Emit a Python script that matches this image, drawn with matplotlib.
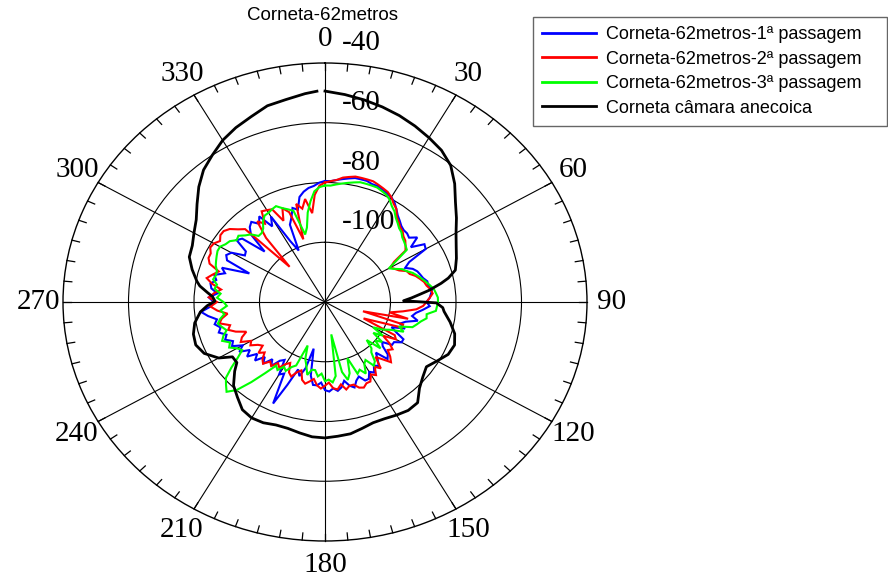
import numpy as np
import matplotlib
matplotlib.use("Agg")
import matplotlib.pyplot as plt
from matplotlib.lines import Line2D
from matplotlib.transforms import offset_copy

title = "Corneta-62metros"
series_labels = [
    "Corneta-62metros-1ª passagem",
    "Corneta-62metros-2ª passagem",
    "Corneta-62metros-3ª passagem",
    "Corneta câmara anecoica",
]
series_colors = ["#0000ff", "#ff0000", "#00ff00", "#000000"]

# three passes measured every 2.5 degrees, starting at 0
pass_step_deg = 2.5
pass1_db = [
    -79.5, -79.5, -79, -78.5, -78, -77.5, -77.5, -77.5, -78, -78, -78.5, -79,
    -79.5, -80.5, -82, -83.5, -84.5, -85.5, -86, -86, -86.5, -84.5, -88, -84,
    -84.5, -91, -93, -91, -90, -89.5, -89, -88, -88, -87, -87.5, -88,
    -89, -88, -90, -92, -93, -91, -94.5, -96, -94, -98, -96, -93,
    -93, -95, -95, -98, -97, -94, -93, -97, -95, -93, -94, -92,
    -93, -91, -91, -93, -92, -90, -91, -93, -91, -90, -91, -90,
    -90.5, -93, -92, -92, -95, -104, -97, -94, -96, -90, -82.5, -93,
    -92, -97, -96, -93, -95, -92, -94, -91, -93, -90, -92, -89,
    -91, -88, -89, -87, -88, -86, -87, -85.5, -86.5, -84, -82, -85,
    -86, -84.5, -87, -85, -84.5, -86, -85, -88, -86.5, -95, -87, -86,
    -87, -91, -90.5, -86, -87, -95, -88, -86, -85, -87, -85, -90,
    -87, -97, -101, -92, -90, -87, -88, -84, -82.5, -81.5, -81, -80,
]
pass2_db = [
    -80, -79.5, -79, -78, -77.5, -77, -77, -77, -77, -77.5, -78, -78.5,
    -79.5, -81, -82, -84, -85, -86, -86.5, -87.5, -88, -89, -90, -95,
    -97, -96, -95, -93, -92.5, -91, -90, -89, -88.5, -87.5, -87, -88,
    -89, -90, -92, -96, -100, -94, -108, -95, -95, -103, -107, -96,
    -95, -99, -96, -94, -95, -93, -91.5, -94, -96, -92, -93.5, -91,
    -92, -90, -90, -89, -89.5, -91, -91, -90, -92, -90.5, -91, -93,
    -92, -91, -92, -94, -93, -92, -93, -96, -95, -93, -94, -97,
    -96, -94, -95, -93, -94, -92, -93, -95, -93.5, -96, -95, -93,
    -94, -91, -92, -94, -91, -89, -90, -87, -88, -90, -87, -85,
    -87, -84.5, -86, -88, -85, -83, -84.5, -86, -82.5, -81.5, -81.5, -80.5,
    -80.8, -82, -81, -81, -82, -84, -85.5, -104, -92, -86, -88, -84,
    -84.5, -85, -90, -86, -88, -98, -86, -88, -85, -90, -84, -81,
]
pass3_db = [
    -81, -81, -80.5, -80, -79.5, -79, -78.5, -78.5, -78.5, -78.5, -79, -79.5,
    -80.5, -82, -83, -84.5, -85.5, -86.5, -87, -88, -88.5, -89, -89.5, -94,
    -97.5, -96, -94, -93, -91.5, -90.5, -89.5, -88.5, -87.5, -86.5, -86, -85.5,
    -85.5, -85.8, -86, -88.7, -88.5, -90, -91, -92, -96, -94, -98, -100,
    -103, -99, -102, -98, -100, -97, -102, -99, -98, -95, -94, -97,
    -96, -93, -95, -94, -100, -95, -93, -96, -109, -95, -93, -94,
    -93.5, -96, -95, -97, -97, -95, -98, -100, -104.5, -97, -96, -94,
    -95, -93, -94, -90, -85, -80, -77.5, -79, -80.5, -84, -87.5, -90,
    -89, -87, -88, -86, -87, -88.5, -87.5, -86.5, -87.5, -89, -88, -90,
    -89, -87, -88, -86, -86.5, -85, -85.5, -85.4, -84.5, -84, -83.5, -83,
    -83, -84, -84.5, -86, -85.5, -87, -88, -90, -89.9, -89, -87, -85.7,
    -85.5, -85, -84.6, -86, -87, -88, -96.6, -94.5, -89.6, -86, -82.8, -81.5,
]

# anechoic chamber reference pattern
anechoic_deg = [
    0, 5, 10, 15, 20, 25, 30, 35, 40, 45, 50, 55, 60, 65, 70, 75, 78, 80,
    83, 85, 87, 89, 90.5, 93, 95, 100, 105, 110, 115, 120, 125, 130, 135,
    140, 145, 150, 155, 160, 165, 170, 175, 180, 185, 190, 195, 200, 205,
    210, 215, 220, 225, 230, 233, 237, 240, 245, 250, 255, 260, 265, 268,
    270.5, 273, 275, 278, 280, 285, 290, 295, 300, 305, 310, 315, 320, 325,
    330, 335, 340, 345, 350, 355, 358,
]
anechoic_db = [
    -49.4, -50.3, -51.3, -52.4, -53.6, -55.0, -56.5, -58.0, -60.3, -64.0,
    -68.0, -71.0, -73.8, -75.8, -77.3, -78.8, -81.5, -84.0, -88.0, -91.0,
    -93.5, -96.0, -86.0, -84.0, -83.5, -81.2, -79.0, -77.9, -78.5, -80.5,
    -82.2, -81.0, -79.2, -76.0, -75.7, -76.3, -76.9, -77.0, -76.2, -75.2,
    -74.9, -74.5, -74.7, -75.5, -76.2, -76.2, -75.4, -75.2, -76.0, -78.4,
    -80.5, -84.0, -86.3, -86.3, -82.5, -79.3, -78.0, -78.4, -79.6, -81.8,
    -84.0, -86.4, -85.6, -84.0, -81.4, -80.3, -78.0, -75.9, -75.3, -73.8,
    -72.0, -69.0, -65.5, -62.3, -60.0, -57.5, -55.6, -54.0, -52.0, -51.2,
    -50.0, -49.4,
]

r_min, r_max = -120, -40
ring_values = [-100, -80, -60]
radial_labels = [-40, -60, -80, -100]
angle_ticks = list(range(0, 360, 30))
minor_angle_ticks = list(range(0, 360, 5))
minor_tick_db = 2.4

serif = "Liberation Serif"
sans = "Liberation Sans"

fig = plt.figure(figsize=(8.88, 5.85), dpi=100)
fig.patch.set_facecolor("white")
ax = fig.add_axes([63 / 888, 44 / 585, 524 / 888, 478 / 585], projection="polar")
ax.set_aspect("auto")
ax.set_theta_zero_location("N")
ax.set_theta_direction(-1)
ax.set_rlim(r_min, r_max)

# grid
ax.set_rgrids(ring_values, labels=[""] * len(ring_values))
ax.set_xticks(np.deg2rad(angle_ticks))
ax.set_xticklabels([str(a) for a in angle_ticks], fontsize=21, family=serif)
ax.tick_params(axis="x", which="major", pad=10.5, length=0)
ax.grid(True, color="black", linewidth=0.8)
ax.spines["polar"].set_color("black")
ax.spines["polar"].set_linewidth(1.0)
ax.set_axisbelow(True)

# small inward ticks on the outer ring every 5 degrees
for a in minor_angle_ticks:
    t = np.deg2rad(a)
    ax.plot([t, t], [r_max - minor_tick_db, r_max], color="black",
            linewidth=0.9, clip_on=False, zorder=1)

# radial level labels along the 0 degree spoke
label_tf = offset_copy(ax.transData, fig=fig, x=17, y=20, units="dots")
for v in radial_labels:
    ax.text(0, v, str(v), transform=label_tf, ha="left", va="center",
            fontsize=21, family=serif, clip_on=False)

# measured passes
for vals, color in zip([pass1_db, pass2_db, pass3_db], series_colors[:3]):
    vals = np.asarray(vals, dtype=float)
    theta = np.deg2rad(np.arange(len(vals)) * pass_step_deg)
    theta = np.append(theta, 2 * np.pi)
    vals = np.append(vals, vals[0])
    ax.plot(theta, vals, color=color, linewidth=1.5, solid_joinstyle="miter",
            zorder=3)

# anechoic chamber pattern
ax.plot(np.deg2rad(anechoic_deg), anechoic_db, color=series_colors[3],
        linewidth=2.0, zorder=3)

fig.text(322 / 888, 1 - 16 / 585, title, ha="center", va="center",
         fontsize=13.5, family=sans)

handles = [Line2D([], [], color=c, linewidth=2.0) for c in series_colors]
leg = fig.legend(handles, series_labels, loc="upper left",
                 bbox_to_anchor=(533 / 888, 1 - 17 / 585, 354 / 888, 0),
                 mode="expand",
                 prop={"family": sans, "size": 13}, frameon=True,
                 fancybox=False, edgecolor="#404040", handlelength=3.0,
                 handletextpad=0.55, labelspacing=0.42, borderpad=0.5,
                 borderaxespad=0)
leg.get_frame().set_linewidth(1.0)

fig.savefig("out.png", dpi=100)
